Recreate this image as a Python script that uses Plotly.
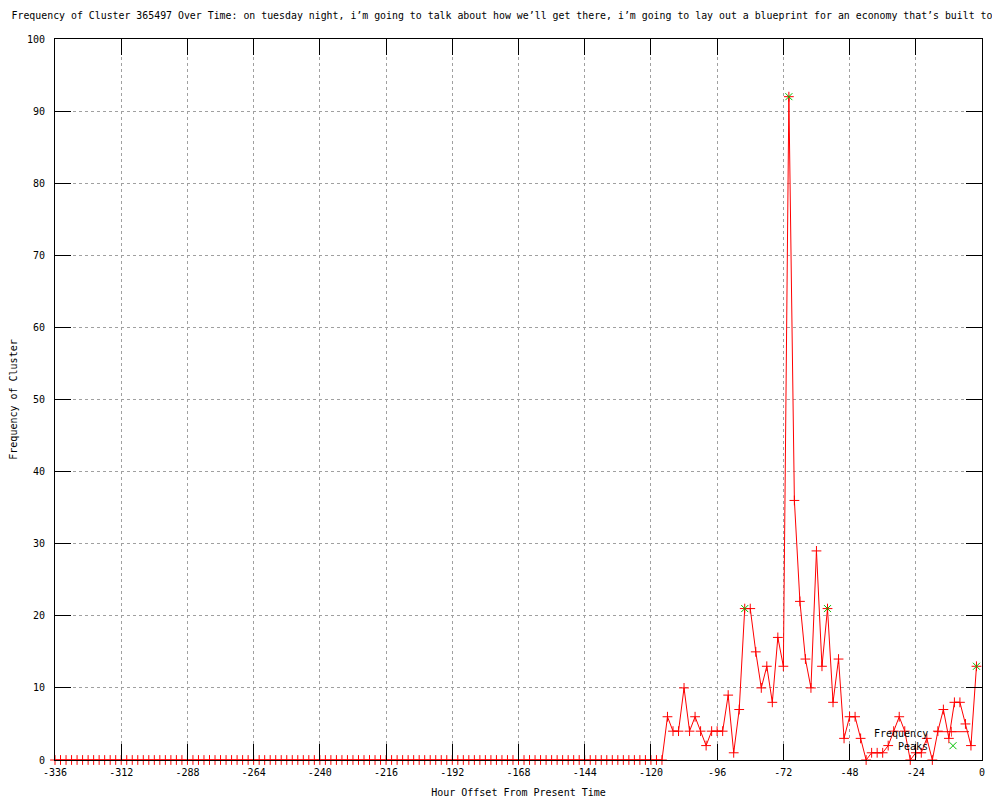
import plotly.graph_objects as go

# ---------------- data ----------------
hours = list(range(-336, 0, 2))  # one point every 2 hours, -336 .. -2

frequency = [
    # -336 .. -298
    0, 0, 0, 0, 0, 0, 0, 0, 0, 0, 0, 0, 0, 0, 0, 0, 0, 0, 0, 0,
    # -296 .. -258
    0, 0, 0, 0, 0, 0, 0, 0, 0, 0, 0, 0, 0, 0, 0, 0, 0, 0, 0, 0,
    # -256 .. -218
    0, 0, 0, 0, 0, 0, 0, 0, 0, 0, 0, 0, 0, 0, 0, 0, 0, 0, 0, 0,
    # -216 .. -178
    0, 0, 0, 0, 0, 0, 0, 0, 0, 0, 0, 0, 0, 0, 0, 0, 0, 0, 0, 0,
    # -176 .. -138
    0, 0, 0, 0, 0, 0, 0, 0, 0, 0, 0, 0, 0, 0, 0, 0, 0, 0, 0, 0,
    # -136 .. -116
    0, 0, 0, 0, 0, 0, 0, 0, 0, 0, 0,
    # -114 .. -96
    6, 4, 4, 10, 4, 6, 4, 2, 4, 4,
    # -94 .. -76
    4, 9, 1, 7, 21, 21, 15, 10, 13, 8,
    # -74 .. -56
    17, 13, 92, 36, 22, 14, 10, 29, 13, 21,
    # -54 .. -36
    8, 14, 3, 6, 6, 3, 0, 1, 1, 1,
    # -34 .. -16
    2, 4, 6, 4, 0, 1, 1, 3, 0, 4,
    # -14 .. -2
    7, 3, 8, 8, 5, 2, 13,
]

peak_hours = [-86, -70, -56, -2]
peak_values = [21, 92, 21, 13]

x_tick_values = [-336, -312, -288, -264, -240, -216, -192, -168, -144, -120, -96, -72, -48, -24, 0]
x_tick_labels = ["-336", "-312", "-288", "-264", "-240", "-216", "-192", "-168",
                 "-144", "-120", "-96", "-72", "-48", "-24", "0"]
y_tick_values = [0, 10, 20, 30, 40, 50, 60, 70, 80, 90, 100]
y_tick_labels = ["0", "10", "20", "30", "40", "50", "60", "70", "80", "90", "100"]

title_text = ("Frequency of Cluster 365497 Over Time: on tuesday night, i\u2019m going to talk about "
              "how we\u2019ll get there, i\u2019m going to lay out a blueprint for an economy that\u2019s built to")
series_names = ["Frequency", "Peaks"]

# ---------------- style ----------------
FONT = "DejaVu Sans Mono"
RED = "#ff0000"
GREEN = "#00c000"
GRID = "#a0a0a0"

# the page body adds an 8px offset, so the figure is drawn 8px smaller
OFF = 8
W, H = 1000 - OFF, 800 - OFF
ML, MT = 55 - OFF, 39 - OFF
MR = W - (982 - OFF)
MB = H - (760 - OFF)
PW, PH = W - ML - MR, H - MT - MB


def px_to_paper(px, py):
    """reference-screen pixel -> paper fraction"""
    return (px - OFF - ML) / PW, (H - MB - (py - OFF)) / PH


fig = go.Figure()

fig.add_trace(go.Scatter(
    x=hours, y=frequency, mode="lines+markers", name=series_names[0],
    line=dict(color=RED, width=1),
    marker=dict(symbol="cross-thin-open", size=7, color=RED, line=dict(color=RED, width=1)),
    cliponaxis=False, showlegend=False,
))
fig.add_trace(go.Scatter(
    x=peak_hours, y=peak_values, mode="markers", name=series_names[1],
    marker=dict(symbol="x-thin-open", size=7, color=GREEN, line=dict(color=GREEN, width=1)),
    cliponaxis=False, showlegend=False,
))

# ---- gnuplot-style key (text on the left, sample on the right) ----
kx0, ky0 = px_to_paper(934, 731.7)
kx1, _ = px_to_paper(969, 731.7)
kxm, _ = px_to_paper(951.5, 731.7)
gx, gy = px_to_paper(953, 745.7)
fig.add_trace(go.Scatter(
    x=[kx0, kxm, kx1], y=[ky0, ky0, ky0], xaxis="x2", yaxis="y2",
    mode="lines+markers", line=dict(color=RED, width=1),
    marker=dict(symbol="cross-thin-open", size=[0, 7, 0], color=RED, line=dict(color=RED, width=1)),
    showlegend=False, hoverinfo="skip", cliponaxis=False,
))
fig.add_trace(go.Scatter(
    x=[gx], y=[gy], xaxis="x2", yaxis="y2", mode="markers",
    marker=dict(symbol="x-thin-open", size=7, color=GREEN, line=dict(color=GREEN, width=1)),
    showlegend=False, hoverinfo="skip", cliponaxis=False,
))
tx, ty1 = px_to_paper(930, 733)
_, ty2 = px_to_paper(930, 746)
for name, ty in zip(series_names, [ty1, ty2]):
    fig.add_annotation(text=name, xref="paper", yref="paper", x=tx, y=ty,
                       xanchor="right", yanchor="middle", showarrow=False,
                       font=dict(family=FONT, size=10, color="black"))

axis_common = dict(
    showline=True, linecolor="black", linewidth=1, mirror="ticks",
    ticks="inside", ticklen=16, tickwidth=1, tickcolor="black",
    showgrid=True, gridcolor=GRID, griddash="dot", gridwidth=1,
    zeroline=False,
    tickfont=dict(family=FONT, size=10, color="black"),
)

fig.update_layout(
    width=W, height=H,
    margin=dict(l=ML, r=MR, t=MT, b=MB, autoexpand=False),
    paper_bgcolor="white", plot_bgcolor="white",
    font=dict(family=FONT, size=10, color="black"),
    title=dict(text=title_text, x=(502 - OFF) / W, xref="container", xanchor="center",
               y=1 - (16 - OFF) / H, yref="container", yanchor="middle",
               font=dict(family=FONT, size=9.9, color="black")),
    xaxis=dict(range=[-336, 0], tickmode="array", tickvals=x_tick_values, ticktext=x_tick_labels,
               ticklabelstandoff=3,
               title=dict(text="Hour Offset From Present Time", standoff=11,
                          font=dict(family=FONT, size=10, color="black")),
               **axis_common),
    yaxis=dict(range=[0, 100], tickmode="array", tickvals=y_tick_values, ticktext=y_tick_labels,
               ticklabelstandoff=7,
               title=dict(text="Frequency of Cluster", standoff=10,
                          font=dict(family=FONT, size=10, color="black")),
               **axis_common),
    xaxis2=dict(overlaying="x", range=[0, 1], visible=False, fixedrange=True),
    yaxis2=dict(overlaying="y", range=[0, 1], visible=False, fixedrange=True),
    showlegend=False,
)

fig.write_html("out.html")
